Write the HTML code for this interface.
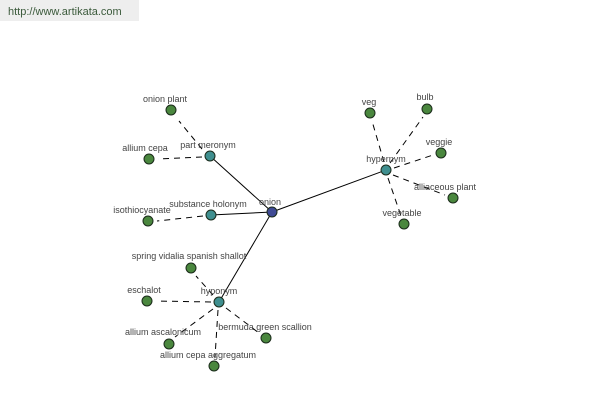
<!DOCTYPE html>
<html><head><meta charset="utf-8"><style>
html,body{margin:0;padding:0;background:#fff;width:600px;height:400px;overflow:hidden}
svg{display:block}
text{font-family:"Liberation Sans",sans-serif;font-size:9px;fill:#444;text-anchor:middle}
</style></head><body>
<svg width="600" height="400" xmlns="http://www.w3.org/2000/svg">
<rect x="0" y="0" width="139" height="21" fill="#eeeeee"/>
<text x="8" y="15" style="text-anchor:start;font-size:11px;fill:#3b5a3b">http://www.artikata.com</text>
<g stroke="#000" stroke-width="1">
<line x1="272" y1="212" x2="210" y2="156"/>
<line x1="272" y1="212" x2="211" y2="215"/>
<line x1="272" y1="212" x2="219" y2="302"/>
<line x1="272" y1="212" x2="386" y2="170"/>
</g>
<g stroke="#000" stroke-width="1" stroke-dasharray="6,5">
<line x1="202" y1="149" x2="179" y2="121"/>
<line x1="202" y1="157" x2="158" y2="159"/>
<line x1="203" y1="216" x2="157" y2="221"/>
<line x1="213" y1="295" x2="196" y2="276"/>
<line x1="211" y1="302" x2="156" y2="301"/>
<line x1="213" y1="309" x2="175" y2="337"/>
<line x1="218" y1="310" x2="215" y2="357"/>
<line x1="226" y1="308" x2="259" y2="333"/>
<line x1="384" y1="162" x2="372" y2="121"/>
<line x1="390" y1="163" x2="423" y2="117"/>
<line x1="394" y1="168" x2="433" y2="155"/>
<line x1="393" y1="175" x2="445" y2="195"/>
<line x1="388" y1="178" x2="401" y2="216"/>
</g>
<g stroke="#1a2a1a" stroke-width="1">
<circle cx="272" cy="212" r="5" fill="#3f4a94"/>
<circle cx="210" cy="156" r="5" fill="#3f8f8f"/>
<circle cx="211" cy="215" r="5" fill="#3f8f8f"/>
<circle cx="219" cy="302" r="5" fill="#3f8f8f"/>
<circle cx="386" cy="170" r="5" fill="#3f8f8f"/>
<g fill="#4a873e">
<circle cx="171" cy="110" r="5"/><circle cx="149" cy="159" r="5"/><circle cx="148" cy="221" r="5"/>
<circle cx="191" cy="268" r="5"/><circle cx="147" cy="301" r="5"/><circle cx="169" cy="344" r="5"/>
<circle cx="214" cy="366" r="5"/><circle cx="266" cy="338" r="5"/>
<circle cx="370" cy="113" r="5"/><circle cx="427" cy="109" r="5"/><circle cx="441" cy="153" r="5"/>
<circle cx="453" cy="198" r="5"/><circle cx="404" cy="224" r="5"/>
</g></g>
<text x="270" y="205">onion</text>
<text x="208" y="148">part meronym</text>
<text x="208" y="207">substance holonym</text>
<text x="219" y="294">hyponym</text>
<text x="386" y="162">hypernym</text>
<text x="165" y="102">onion plant</text>
<text x="145" y="151">allium cepa</text>
<text x="142" y="213">isothiocyanate</text>
<text x="189" y="259">spring vidalia spanish shallot</text>
<text x="144" y="293">eschalot</text>
<text x="163" y="335">allium ascalonicum</text>
<text x="208" y="358">allium cepa aggregatum</text>
<text x="265" y="330">bermuda green scallion</text>
<text x="369" y="105">veg</text>
<text x="425" y="100">bulb</text>
<text x="439" y="145">veggie</text>
<text x="445" y="190">alliaceous plant</text>
<text x="402" y="216">vegetable</text>
</svg>
</body></html>
